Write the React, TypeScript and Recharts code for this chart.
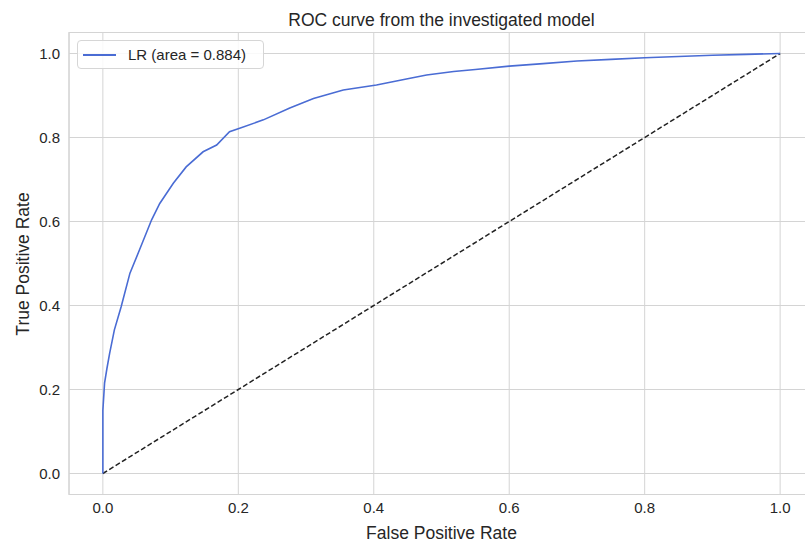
import { CartesianGrid, Legend, Line, LineChart, ReferenceArea, XAxis, YAxis } from "recharts";

// values
const fpr = [
	0, 0, 0.0025, 0.006, 0.01, 0.017, 0.027, 0.04, 0.054, 0.072, 0.084, 0.104, 0.123,
	0.148, 0.168, 0.187, 0.202, 0.237, 0.276, 0.311, 0.355, 0.404, 0.45, 0.478, 0.518,
	0.55, 0.6, 0.65, 0.7, 0.75, 0.8, 0.85, 0.9, 0.95, 1.0,
];
const tpr = [
	0, 0.15, 0.215, 0.25, 0.286, 0.342, 0.397, 0.477, 0.532, 0.604, 0.643, 0.691, 0.73,
	0.766, 0.782, 0.814, 0.822, 0.842, 0.87, 0.893, 0.913, 0.925, 0.94, 0.949, 0.957,
	0.962, 0.97, 0.976, 0.982, 0.986, 0.99, 0.993, 0.996, 0.998, 1.0,
];
const chanceX = [0, 1];
const chanceY = [0, 1];
const ticks = [0, 0.2, 0.4, 0.6, 0.8, 1.0];

const rocData = fpr.map((x, i) => ({ fpr: x, tpr: tpr[i] }));
const chanceData = chanceX.map((x, i) => ({ fpr: x, tpr: chanceY[i] }));

const textColor = "#262626";
const gridColor = "#d4d4d4";
const font = "Arial, 'Liberation Sans', sans-serif";

function LegendBox({ payload }: any) {
	const items = (payload || []).filter((p: any) => p.type !== "none");
	return (
		<div
			style={{
				width: 185,
				height: 27,
				border: "1px solid #d6d6d6",
				borderRadius: 4,
				background: "rgba(255,255,255,0.85)",
				fontFamily: font,
				fontSize: 15,
				color: textColor,
				display: "flex",
				alignItems: "center",
			}}
		>
			{items.map((p: any) => (
				<div key={p.value} style={{ display: "flex", alignItems: "center" }}>
					<span style={{ display: "inline-block", width: 33, height: 2, background: p.color, marginLeft: 5, marginRight: 12 }} />
					<span>{p.value}</span>
				</div>
			))}
		</div>
	);
}

export default function App() {
	return (
		<div style={{ position: "fixed", left: 0, top: 0, width: 805, height: 546, overflow: "hidden", background: "#fff" }}>
			<div
				style={{
					position: "absolute",
					left: 441.5,
					top: 20,
					transform: "translate(-50%, -50%)",
					fontFamily: font,
					fontSize: 17.5,
					color: textColor,
					whiteSpace: "nowrap",
				}}
			>
				ROC curve from the investigated model
			</div>
			<div
				style={{
					position: "absolute",
					left: 441.5,
					top: 533,
					transform: "translate(-50%, -50%)",
					fontFamily: font,
					fontSize: 17.5,
					color: textColor,
					whiteSpace: "nowrap",
				}}
			>
				False Positive Rate
			</div>
			<div
				style={{
					position: "absolute",
					left: 23,
					top: 264,
					transform: "translate(-50%, -50%) rotate(-90deg)",
					fontFamily: font,
					fontSize: 17.5,
					color: textColor,
					whiteSpace: "nowrap",
				}}
			>
				True Positive Rate
			</div>
			<div style={{ position: "absolute", left: 0, top: 0 }}>
				<LineChart width={830} height={546} margin={{ top: 32.5, right: 16, bottom: 0, left: 0 }}>
					<CartesianGrid stroke={gridColor} strokeWidth={1} />
					<ReferenceArea x1={-0.05} x2={1.05} y1={-0.05} y2={1.05} fill="none" stroke={gridColor} strokeWidth={1.2} />
					<XAxis
						dataKey="fpr"
						type="number"
						domain={[-0.05, 1.05]}
						ticks={ticks}
						tickFormatter={(v: number) => v.toFixed(1)}
						axisLine={false}
						tickLine={false}
						tickSize={0}
						tickMargin={8}
						height={51.5}
						tick={{ fill: textColor, fontSize: 15, fontFamily: font }}
						allowDataOverflow
					/>
					<YAxis
						dataKey="tpr"
						type="number"
						domain={[-0.05, 1.05]}
						ticks={ticks}
						tickFormatter={(v: number) => v.toFixed(1)}
						axisLine={false}
						tickLine={false}
						tickSize={0}
						tickMargin={9}
						width={69}
						tick={{ fill: textColor, fontSize: 15, fontFamily: font }}
						allowDataOverflow
					/>
					<Legend
						layout="vertical"
						align="center"
						verticalAlign="middle"
						wrapperStyle={{ left: 77, top: 40, width: 187 }}
						content={<LegendBox />}
					/>
					<Line
						data={chanceData}
						dataKey="tpr"
						stroke="#222"
						strokeWidth={1.5}
						strokeDasharray="5 2.5"
						dot={false}
						legendType="none"
						isAnimationActive={false}
					/>
					<Line
						data={rocData}
						dataKey="tpr"
						name="LR (area = 0.884)"
						stroke="#4a6cd4"
						strokeWidth={1.6}
						dot={false}
						isAnimationActive={false}
					/>
				</LineChart>
			</div>
		</div>
	);
}
